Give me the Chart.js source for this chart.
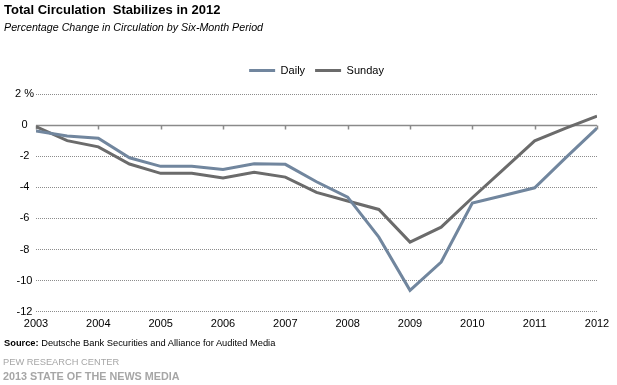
<!DOCTYPE html>
<html>
<head>
<meta charset="utf-8">
<script src="https://cdn.jsdelivr.net/npm/chart.js@4"></script>
<style>
  body { margin: 0; background: #fff; font-family: "Liberation Sans", Arial, sans-serif; }
  #wrap { position: relative; width: 617px; height: 385px; overflow: hidden; }
  #chart { position: absolute; left: 0; top: 0; }
  .txt { position: absolute; left: 4px; white-space: nowrap; }
  #title { top: 2px; font-size: 13px; font-weight: bold; color: #000; }
  #sub { top: 21px; font-size: 10.7px; font-style: italic; color: #000; }
  #src { top: 338px; font-size: 9.3px; color: #000; }
  #pew { top: 357px; left: 3px; font-size: 9.3px; color: #a6a6a6; }
  #som { top: 370px; left: 3px; font-size: 10.8px; font-weight: bold; color: #a6a6a6; }
</style>
</head>
<body>
<div id="wrap">
  <canvas id="chart" width="617" height="385"></canvas>
  <div class="txt" id="title">Total Circulation&nbsp; Stabilizes in 2012</div>
  <div class="txt" id="sub">Percentage Change in Circulation by Six-Month Period</div>
  <div class="txt" id="src"><b>Source:</b> Deutsche Bank Securities and Alliance for Audited Media</div>
  <div class="txt" id="pew">PEW RESEARCH CENTER</div>
  <div class="txt" id="som">2013 STATE OF THE NEWS MEDIA</div>
</div>
<script>
/* ---------- data ---------- */
const periods = [2003, 2003.5, 2004, 2004.5, 2005, 2005.5, 2006, 2006.5, 2007, 2007.5,
                 2008, 2008.5, 2009, 2009.5, 2010, 2010.5, 2011, 2011.5, 2012];
const daily   = [-0.37, -0.7, -0.84, -2.1, -2.65, -2.65, -2.85, -2.48, -2.52, -3.64,
                 -4.63, -7.2, -10.62, -8.8, -5.01, -4.52, -4.03, -2.09, -0.19];
const sunday  = [-0.1, -1.0, -1.4, -2.5, -3.1, -3.1, -3.4, -3.03, -3.34, -4.32,
                 -4.88, -5.42, -7.52, -6.56, -4.67, -2.84, -1.01, -0.19, 0.58];
const yearTicks = [2003, 2004, 2005, 2006, 2007, 2008, 2009, 2010, 2011, 2012];
const yTicks    = [2, 0, -2, -4, -6, -8, -10, -12];

const DAILY_C = '#71869e';
const SUNDAY_C = '#6b6b6b';

const toXY = vals => vals.map((v, i) => ({ x: periods[i], y: v }));

/* zero axis line + year tick marks hanging from it */
const zeroAxis = {
  id: 'zeroAxis',
  beforeDatasetsDraw(chart) {
    const { ctx, chartArea, scales: { x, y } } = chart;
    const y0 = Math.round(y.getPixelForValue(0)) + 0.5;
    ctx.save();
    ctx.strokeStyle = '#8a8a8a';
    ctx.lineWidth = 1.5;
    ctx.beginPath();
    ctx.moveTo(chartArea.left, y0);
    ctx.lineTo(chartArea.right, y0);
    yearTicks.forEach(t => {
      const px = Math.round(x.getPixelForValue(t)) + 0.5;
      ctx.moveTo(px, y0);
      ctx.lineTo(px, y0 + 4);
    });
    ctx.stroke();
    ctx.restore();
  }
};

/* extra room under the legend, and nudge it right a bit */
const legendGap = {
  id: 'legendGap',
  beforeInit(chart) {
    const fit = chart.legend.fit;
    chart.legend.fit = function () {
      fit.bind(chart.legend)();
      this.height += 8;
    };
  },
  afterLayout(chart) {
    chart.legend.left += 11;
    chart.legend.right += 11;
  }
};

new Chart(document.getElementById('chart'), {
  type: 'line',
  data: {
    datasets: [
      { label: 'Daily', data: toXY(daily), borderColor: DAILY_C, backgroundColor: DAILY_C,
        borderWidth: 3, pointRadius: 0, tension: 0 },
      { label: 'Sunday', data: toXY(sunday), borderColor: SUNDAY_C, backgroundColor: SUNDAY_C,
        borderWidth: 3, pointRadius: 0, tension: 0 }
    ]
  },
  plugins: [zeroAxis, legendGap],
  options: {
    responsive: false,
    animation: false,
    layout: { padding: { top: 55, left: 14, right: 20, bottom: 48 } },
    font: { family: '"Liberation Sans", Arial, sans-serif', size: 11 },
    plugins: {
      legend: {
        position: 'top',
        labels: {
          color: '#000',
          font: { family: '"Liberation Sans", Arial, sans-serif', size: 11 },
          usePointStyle: true,
          pointStyle: 'line',
          pointStyleWidth: 26,
          boxHeight: 3,
          padding: 10
        }
      },
      tooltip: { enabled: false }
    },
    scales: {
      x: {
        type: 'linear',
        min: 2003,
        max: 2012,
        afterBuildTicks: s => { s.ticks = yearTicks.map(v => ({ value: v })); },
        ticks: {
          color: '#000',
          padding: 6,
          font: { family: '"Liberation Sans", Arial, sans-serif', size: 11 },
          callback: v => String(v),
          maxRotation: 0
        },
        grid: { display: false, drawTicks: false },
        border: { display: false }
      },
      y: {
        min: -12,
        max: 2,
        afterBuildTicks: s => { s.ticks = yTicks.map(v => ({ value: v })); },
        afterFit: s => { s.width = 22; },
        ticks: {
          color: '#000',
          padding: 2,
          crossAlign: 'center',
          font: { family: '"Liberation Sans", Arial, sans-serif', size: 11 },
          callback: v => (v === 2 ? '2 %' : String(v))
        },
        grid: {
          drawTicks: false,
          color: ctx => (ctx.tick && ctx.tick.value === 0 ? 'rgba(0,0,0,0)' : '#8c8c8c'),
          lineWidth: 1
        },
        border: { display: false, dash: [1, 1] }
      }
    }
  }
});
</script>
</body>
</html>
